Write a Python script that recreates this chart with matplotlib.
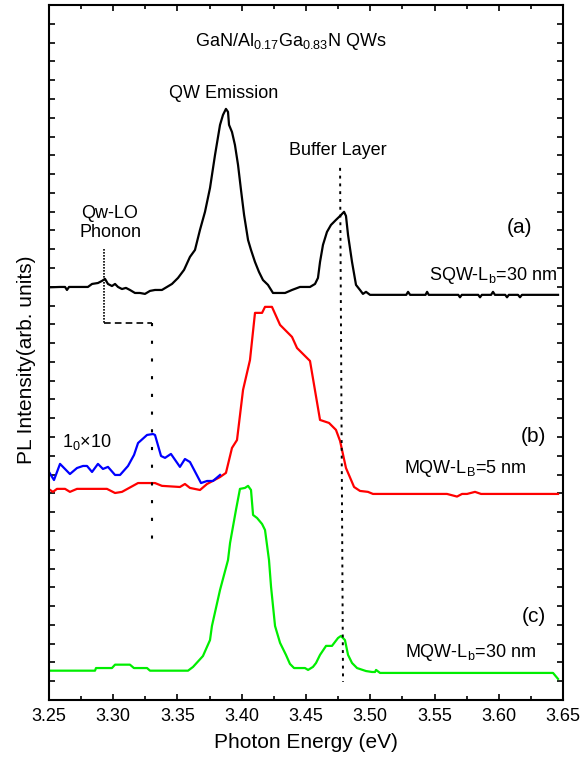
import matplotlib
matplotlib.use("Agg")
import matplotlib.pyplot as plt
from matplotlib.ticker import MultipleLocator, NullFormatter

plt.rcParams['font.family'] = ['Liberation Sans', 'DejaVu Sans']
plt.rcParams['mathtext.default'] = 'regular'

# (a) SQW, Lb = 30 nm  (offset by ~22 units)
e_a = [3.2500, 3.2586, 3.2625, 3.2640, 3.2656, 3.2803, 3.2835, 3.2881, 3.2912, 3.2936,
       3.2959, 3.2990, 3.3014, 3.3037, 3.3068, 3.3099, 3.3130, 3.3169, 3.3208, 3.3247,
       3.3286, 3.3325, 3.3379, 3.3418, 3.3457, 3.3504, 3.3551, 3.3597, 3.3636, 3.3675,
       3.3714, 3.3753, 3.3792, 3.3831, 3.3854, 3.3877, 3.3893, 3.3901, 3.3924, 3.3947,
       3.3971, 3.3994, 3.4018, 3.4049, 3.4072, 3.4103, 3.4134, 3.4165, 3.4204, 3.4243,
       3.4337, 3.4391, 3.4453, 3.4531, 3.4570, 3.4593, 3.4609, 3.4632, 3.4663, 3.4694,
       3.4733, 3.4765, 3.4796, 3.4811, 3.4827, 3.4858, 3.4889, 3.4920, 3.4943, 3.4967,
       3.4998, 3.5037, 3.5280, 3.5294, 3.5310, 3.5430, 3.5442, 3.5455, 3.5685, 3.5698,
       3.5712, 3.5840, 3.5854, 3.5868, 3.5940, 3.5955, 3.5970, 3.6050, 3.6064, 3.6078,
       3.6150, 3.6165, 3.6180, 3.6461]
i_a = [21.97, 21.99, 21.99, 21.83, 21.99, 21.99, 22.15, 22.20, 22.31, 22.42,
       22.15, 22.04, 22.15, 21.99, 21.88, 21.94, 21.83, 21.67, 21.67, 21.62,
       21.78, 21.83, 21.83, 21.99, 22.15, 22.47, 22.90, 23.59, 23.96, 25.03,
       25.99, 27.26, 29.02, 30.62, 31.15, 31.47, 31.31, 30.62, 30.24, 29.55,
       28.49, 27.16, 25.83, 24.49, 23.96, 23.32, 22.79, 22.36, 22.10, 21.67,
       21.67, 21.83, 21.99, 21.99, 22.15, 22.47, 23.32, 24.23, 24.92, 25.29,
       25.56, 25.77, 25.99, 25.77, 24.76, 23.32, 22.10, 21.83, 21.62, 21.73,
       21.57, 21.57, 21.57, 21.73, 21.57, 21.57, 21.73, 21.57, 21.57, 21.44,
       21.57, 21.57, 21.44, 21.57, 21.57, 21.73, 21.57, 21.57, 21.44, 21.57,
       21.57, 21.44, 21.57, 21.57]

# (b) MQW, LB = 5 nm
e_b = [3.2500, 3.2531, 3.2562, 3.2625, 3.2663, 3.2718, 3.2951, 3.3014, 3.3068, 3.3193,
       3.3325, 3.3379, 3.3519, 3.3558, 3.3597, 3.3675, 3.3730, 3.3831, 3.3877, 3.3924,
       3.3963, 3.4010, 3.4064, 3.4103, 3.4158, 3.4181, 3.4235, 3.4298, 3.4391, 3.4430,
       3.4531, 3.4609, 3.4679, 3.4733, 3.4765, 3.4811, 3.4874, 3.4920, 3.4982, 3.5021,
       3.5597, 3.5675, 3.5714, 3.5753, 3.5815, 3.5862, 3.6461]
i_b = [11.22, 11.08, 11.24, 11.24, 11.08, 11.24, 11.24, 11.02, 11.08, 11.55,
       11.55, 11.40, 11.34, 11.50, 11.29, 11.18, 11.50, 11.87, 12.09, 13.42,
       13.84, 16.51, 18.10, 20.61, 20.61, 20.93, 20.93, 19.97, 19.33, 18.74,
       18.05, 14.91, 14.75, 14.38, 13.79, 12.35, 11.34, 11.13, 11.08, 10.97,
       10.97, 10.83, 10.97, 10.97, 11.08, 10.97, 10.97]

# (b) low-energy side magnified x10
e_b10 = [3.2500, 3.2539, 3.2586, 3.2663, 3.2718, 3.2765, 3.2796, 3.2835, 3.2881, 3.2920,
         3.2959, 3.3014, 3.3053, 3.3115, 3.3162, 3.3193, 3.3263, 3.3309, 3.3325, 3.3372,
         3.3403, 3.3449, 3.3519, 3.3558, 3.3597, 3.3683, 3.3730, 3.3776, 3.3831]
i_b10 = [12.14, 11.71, 12.57, 12.03, 12.35, 12.46, 12.46, 12.14, 12.57, 12.30,
         12.41, 11.98, 11.98, 12.46, 13.05, 13.68, 14.11, 14.16, 14.11, 12.99,
         12.89, 13.10, 12.41, 12.83, 12.67, 11.55, 11.66, 11.66, 11.98]

# (c) MQW, Lb = 30 nm
e_c = [3.2500, 3.2858, 3.2866, 3.2990, 3.3014, 3.3130, 3.3161, 3.3263, 3.3286, 3.3582,
       3.3621, 3.3698, 3.3753, 3.3768, 3.3831, 3.3893, 3.3909, 3.3955, 3.3986, 3.4025,
       3.4049, 3.4072, 3.4088, 3.4119, 3.4158, 3.4181, 3.4212, 3.4228, 3.4259, 3.4298,
       3.4344, 3.4375, 3.4407, 3.4492, 3.4516, 3.4554, 3.4578, 3.4609, 3.4656, 3.4702,
       3.4749, 3.4772, 3.4803, 3.4827, 3.4858, 3.4897, 3.4967, 3.5014, 3.5037, 3.5045,
       3.5076, 3.6422, 3.6461]
i_c = [1.56, 1.56, 1.70, 1.70, 1.88, 1.88, 1.70, 1.70, 1.56, 1.56,
       1.76, 2.34, 3.19, 3.94, 5.86, 7.45, 8.36, 10.12, 11.24, 11.29,
       11.40, 11.18, 9.85, 9.69, 9.37, 9.05, 7.45, 6.02, 3.94, 3.04,
       2.40, 1.92, 1.70, 1.70, 1.60, 1.76, 1.97, 2.40, 2.88, 2.88,
       3.30, 3.41, 3.19, 2.40, 1.97, 1.70, 1.54, 1.49, 1.49, 1.60,
       1.44, 1.44, 1.12]

# marker lines: LO phonon replica and buffer layer
phonon_e = [3.2928, 3.3300]
phonon_y = [24.01, 20.07, 8.52]
buffer_e = [3.4765, 3.4788]
buffer_y = [28.33, 0.96]

fig = plt.figure(figsize=(5.81, 7.63), dpi=100)
ax = fig.add_axes([0.0843, 0.0826, 0.8848, 0.9108])

lw = 1.6
ax.plot(e_a, i_a, color='black', lw=lw)
ax.plot(e_b, i_b, color='#ff0000', lw=lw)
ax.plot(e_b10, i_b10, color='#0000ff', lw=lw)
ax.plot(e_c, i_c, color='#00ee00', lw=lw)

ax.plot([phonon_e[0], phonon_e[0]], phonon_y[:2], color='black', lw=1.2, ls=(0, (1, 0.8)))
ax.plot(phonon_e, [phonon_y[1], phonon_y[1]], color='black', lw=1.2, ls=(0, (4, 2.5)))
ax.plot([phonon_e[1], phonon_e[1]], phonon_y[1:], color='black', lw=1.5, ls=(0, (1.5, 7)))
ax.plot(buffer_e, buffer_y, color='black', lw=1.4, ls=(0, (1.5, 2.5)))

ax.text(3.4383, 34.84, 'GaN/Al$_{0.17}$Ga$_{0.83}$N QWs', ha='center', va='baseline', fontsize=13)
ax.text(3.3862, 32.07, 'QW Emission', ha='center', va='baseline', fontsize=13)
ax.text(3.4749, 29.02, 'Buffer Layer', ha='center', va='baseline', fontsize=13)
ax.text(3.2975, 25.67, 'Qw-LO', ha='center', va='baseline', fontsize=13)
ax.text(3.2975, 24.65, 'Phonon', ha='center', va='baseline', fontsize=13)
ax.text(3.6158, 24.87, '(a)', ha='center', va='baseline', fontsize=15)
ax.text(3.6453, 22.36, 'SQW-L$_b$=30 nm', ha='right', va='baseline', fontsize=13)
ax.text(3.6270, 13.74, '(b)', ha='center', va='baseline', fontsize=15)
ax.text(3.5741, 12.09, 'MQW-L$_B$=5 nm', ha='center', va='baseline', fontsize=13)
ax.text(3.2601, 13.47, '1$_0$\u00d710', ha='left', va='baseline', fontsize=13)
ax.text(3.6270, 4.15, '(c)', ha='center', va='baseline', fontsize=15)
ax.text(3.5784, 2.29, 'MQW-L$_b$=30 nm', ha='center', va='baseline', fontsize=13)

ax.set_xlim(3.25, 3.65)
ax.set_ylim(0, 37)
ax.xaxis.set_major_locator(MultipleLocator(0.05))
ax.xaxis.set_minor_locator(MultipleLocator(0.025))
ax.yaxis.set_major_locator(MultipleLocator(1))
ax.yaxis.set_major_formatter(NullFormatter())
ax.set_xticklabels([f'{v:.2f}' for v in ax.get_xticks()])
ax.tick_params(which='both', direction='in', top=True, right=True, width=1.2, labelsize=13, pad=6)
ax.tick_params(which='major', length=4)
ax.tick_params(which='minor', length=3)
for s in ax.spines.values():
    s.set_linewidth(1.5)

ax.set_xlabel('Photon Energy (eV)', fontsize=15)
ax.set_ylabel('PL Intensity(arb. units)', fontsize=15)
ax.xaxis.set_label_coords(0.5, -0.0475)
ax.yaxis.set_label_coords(-0.0253, 0.489)

fig.savefig('out.png', dpi=100)
